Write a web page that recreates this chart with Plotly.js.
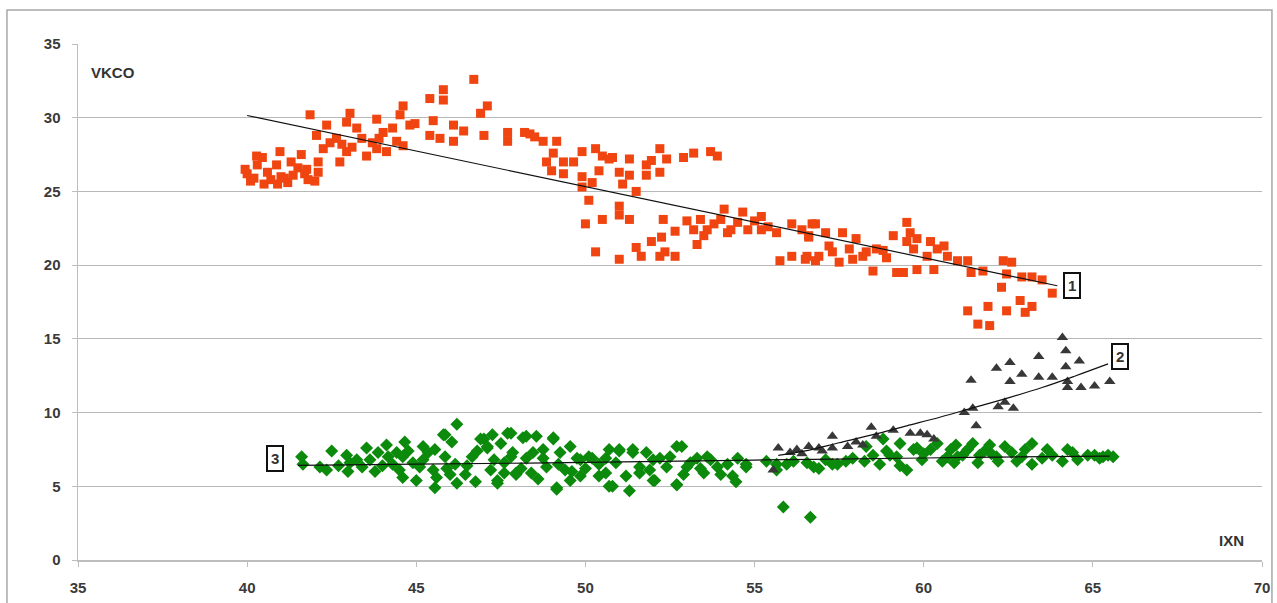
<!DOCTYPE html>
<html>
<head>
<meta charset="utf-8">
<script src="https://cdn.plot.ly/plotly-3.0.1.min.js"></script>
<style>html,body{margin:0;padding:0;background:#fff;}#chart{width:1277px;height:603px;}</style>
</head>
<body>
<div id="chart"></div>
<script>
// Series 1 (orange squares)
var orangeX = [40.0,40.1,40.3,40.45,40.5,40.7,40.9,41.0,41.2,41.3,41.5,41.6,41.7,42.0,42.1,41.8,39.94,40.28,40.97,40.87,41.36,41.76,42.1,41.86,42.05,42.25,42.35,42.64,42.74,42.94,43.04,42.94,43.24,43.39,43.53,43.83,43.83,44.02,44.12,44.42,44.61,44.52,44.61,44.81,44.96,45.4,45.8,45.8,45.5,45.4,45.7,46.1,46.1,46.4,46.7,46.9,47.1,47.0,47.7,47.7,48.2,42.45,43.7,43.9,48.36,48.75,49.15,49.05,48.85,49.0,49.35,49.35,49.65,49.9,49.9,49.9,50.2,50.3,50.5,50.4,50.7,50.8,50.1,50.0,50.3,50.5,51.0,51.1,51.3,51.3,51.5,51.0,51.0,51.3,51.0,51.5,51.65,51.8,51.8,51.95,52.2,52.2,52.4,51.95,52.25,52.2,52.35,52.65,52.3,52.65,52.9,53.2,53.7,53.9,53.3,53.0,53.2,53.4,53.6,53.8,54.0,54.1,54.3,54.5,54.65,54.8,55.0,55.2,55.2,55.65,56.1,56.4,56.7,56.6,55.75,56.1,56.55,56.8,56.8,57.1,56.6,56.5,56.9,57.3,57.6,57.5,57.8,58.0,57.9,58.3,58.5,58.6,58.9,59.1,59.2,59.5,59.6,59.5,59.8,59.7,59.4,59.8,60.2,60.4,60.6,60.1,60.3,60.7,61.0,61.3,61.4,61.75,62.35,62.6,62.45,62.9,63.2,63.5,63.8,62.3,61.3,61.6,61.9,61.95,62.45,62.85,63.0,63.2,53.5,54.2,55.4,57.2,58.2,58.8,48.5,43.1,44.3,42.8,40.6,41.1,40.2];
var orangeY = [26.2,25.7,26.8,27.3,25.5,25.8,25.5,26.0,25.6,27.0,26.6,27.5,26.2,25.7,26.3,25.8,26.5,27.4,27.7,26.8,26.1,26.5,27.0,30.2,28.8,27.9,29.5,28.6,27.0,27.7,30.3,29.7,29.3,28.6,27.4,29.9,27.9,29.0,27.7,28.4,30.8,30.2,28.1,29.5,29.6,31.3,31.9,31.2,29.8,28.8,28.6,29.5,28.4,29.1,32.6,30.3,30.8,28.8,29.0,28.4,29.0,28.3,28.3,28.6,28.9,28.4,28.4,27.6,27.0,26.4,26.2,27.0,27.0,27.7,26.0,25.3,25.6,27.9,27.4,26.4,27.2,27.3,24.4,22.8,20.9,23.1,26.3,25.5,27.2,26.1,25.0,24.0,23.4,23.1,20.4,21.2,20.6,26.8,26.1,27.1,27.9,26.3,27.2,21.6,21.9,20.6,20.9,20.6,23.1,22.3,27.3,27.6,27.7,27.4,21.4,23.0,22.4,23.1,22.4,22.8,23.1,23.8,22.4,22.9,23.6,22.4,23.0,22.4,23.3,22.2,22.8,22.4,22.8,21.9,20.3,20.6,20.6,20.3,22.8,22.2,22.0,20.4,20.6,20.9,22.2,20.2,21.1,21.8,20.4,20.9,19.6,21.1,20.5,22.0,19.5,22.9,22.2,21.6,21.8,21.1,19.5,19.7,21.6,21.1,21.3,20.6,19.7,20.6,20.3,20.3,19.5,19.6,20.3,20.2,19.4,19.2,19.2,19.0,18.1,18.5,16.9,16.0,17.2,15.9,16.9,17.6,16.8,17.2,22.0,22.2,22.6,21.3,20.6,21.0,28.7,28.0,29.3,28.2,26.3,25.9,25.9];

// Series 2 (dark triangles)
var triX = [64.1,64.2,63.4,62.55,62.15,61.4,62.9,62.55,63.4,63.8,64.2,64.6,64.25,64.25,64.65,65.05,65.5,61.2,61.45,62.2,62.4,62.65,61.55,58.45,55.7,55.55,56.05,56.25,56.6,56.9,57.3,57.3,57.75,58.6,59.1,59.6,59.9,58.0,58.2,60.1,60.3,56.4,57.0];
var triY = [15.1,14.2,13.8,13.4,13.0,12.2,12.6,12.1,12.4,12.4,13.1,13.5,12.1,11.7,11.7,11.8,12.1,10.0,10.3,10.4,10.7,10.3,9.1,9.0,7.6,6.1,7.3,7.5,7.7,7.6,8.4,7.6,7.7,8.4,8.8,8.6,8.6,8.0,7.8,8.5,8.2,7.2,7.4];

// Series 3 (green diamonds)
var greenX = [41.61,41.65,42.15,42.35,42.5,42.94,43.04,42.98,43.24,43.53,43.63,43.78,43.87,44.12,44.17,44.3,44.42,44.66,44.76,44.9,44.6,45.0,45.2,45.35,45.55,45.5,45.6,45.55,45.8,45.85,46.0,46.05,46.15,46.2,46.2,46.45,46.65,46.75,47.0,47.1,47.25,47.3,47.4,47.5,47.7,47.85,47.95,48.15,48.25,48.4,48.55,48.75,48.85,49.05,49.15,49.25,49.4,49.55,49.75,49.85,50.1,50.4,50.4,
  45.85,46.9,47.1,47.8,48.25,49.05,48.45,48.75,47.4,47.6,47.95,49.15,49.55,49.85,50.2,50.6,50.8,51.0,51.2,51.3,51.4,51.6,51.8,52.05,52.2,52.4,52.5,52.7,52.85,53.0,53.3,53.5,53.6,53.9,54.2,54.35,54.45,54.75,55.35,55.65,55.85,56.15,56.65,56.75,55.65,
  57.45,57.7,58.25,58.3,58.7,58.8,59.0,59.3,59.5,59.7,59.95,60.2,60.55,60.8,60.95,61.15,61.45,61.65,61.95,62.15,62.4,62.75,63.0,63.2,63.2,63.65,63.8,64.1,64.25,64.55,64.85,65.05,65.3,65.45,50.7,51.0,51.4,50.7,52.0,52.7,52.7,53.7,54.75,55.95,56.55,57.3,
  42.7,43.4,44.0,44.5,45.1,45.9,46.5,47.2,47.6,48.1,48.6,49.2,49.6,50.0,50.9,51.6,52.0,52.9,53.4,54.0,54.5,47.8,46.8,45.2,44.6,50.6,51.9,53.1,
  58.9,59.2,60.0,60.4,61.0,61.3,61.8,62.0,62.6,60.7,59.8,57.9,58.5,63.5,64.4,65.2,65.6,56.9,57.1,59.3,60.9,61.6,62.2,62.9];
var greenY = [7.0,6.5,6.3,6.1,7.4,7.1,6.6,6.0,6.8,7.6,6.8,6.0,7.3,7.8,7.0,6.5,7.3,8.0,7.4,6.6,5.6,5.4,7.7,7.3,7.5,6.1,5.6,4.9,8.5,7.0,5.8,8.0,6.5,9.2,5.2,5.8,7.0,5.3,8.2,7.6,8.5,6.8,5.4,7.9,8.6,7.3,5.9,8.3,6.9,5.9,8.4,7.5,6.3,8.2,4.8,7.3,6.1,7.7,6.9,5.7,7.0,6.5,5.7,
  8.5,8.2,7.7,8.6,8.4,8.3,7.3,6.9,5.2,5.9,5.8,4.9,5.4,6.8,6.9,5.9,5.0,7.4,5.7,4.7,7.3,6.3,7.3,5.4,6.9,6.3,7.0,5.1,7.7,6.3,6.9,5.9,7.0,6.3,6.5,5.7,5.3,6.3,6.7,6.5,3.6,6.7,2.9,6.3,6.1,
  6.5,6.7,6.7,7.7,6.5,8.2,7.1,7.9,6.1,7.5,6.8,7.5,6.7,7.5,7.8,7.1,7.9,7.1,7.8,7.0,7.7,6.7,7.5,7.9,6.5,7.5,7.1,6.7,7.5,6.8,7.1,7.1,7.0,7.1,7.5,7.5,7.5,5.0,5.4,7.7,5.1,6.8,6.5,6.5,6.6,6.5,
  6.4,6.3,6.4,6.1,6.3,6.2,6.4,6.1,6.6,6.2,5.5,6.5,6.0,6.2,6.6,5.9,6.8,5.8,6.2,5.8,6.9,7.0,7.4,6.8,7.0,6.9,6.1,6.6,
  7.4,7.0,7.2,7.9,7.0,7.5,7.4,7.2,7.3,7.0,7.6,6.9,7.1,6.9,7.3,6.9,7.0,6.2,6.8,6.4,6.6,6.6,6.7,7.0];

// Trend lines
var trend1X = [40.0, 63.95];
var trend1Y = [30.15, 18.6];
var trend2X = [55.7, 56.5, 57.5, 58.5, 59.5, 60.5, 61.5, 62.5, 63.5, 64.5, 65.45];
var trend2Y = [7.1, 7.4, 7.95, 8.5, 9.1, 9.7, 10.35, 11.0, 11.7, 12.5, 13.3];
var trend3X = [41.5, 45, 50, 55, 60, 62.3, 65.5];
var trend3Y = [6.42, 6.5, 6.62, 6.78, 6.92, 6.98, 7.05];

// Labels
var xTicks = [35, 40, 45, 50, 55, 60, 65, 70];
var yTicks = [0, 5, 10, 15, 20, 25, 30, 35];
var seriesLabels = ["1", "2", "3"];
var labelX = [64.38, 65.8, 40.82];
var labelY = [18.6, 13.8, 6.87];
var yName = "VKCO";
var xName = "IXN";

var FONT = 'Liberation Sans, Arial, sans-serif';

var traces = [
  {x: greenX, y: greenY, mode: 'markers', type: 'scatter',
   marker: {symbol: 'diamond', size: 10, color: '#0b8a0b', line: {width: 0}}},
  {x: orangeX, y: orangeY, mode: 'markers', type: 'scatter',
   marker: {symbol: 'square', size: 9, color: '#f04510', line: {width: 0}}},
  {x: triX, y: triY, mode: 'markers', type: 'scatter',
   marker: {symbol: 'triangle-up', size: 10, color: '#383838', line: {width: 0}}},
  {x: trend1X, y: trend1Y, mode: 'lines', type: 'scatter', line: {color: '#111', width: 1.2}},
  {x: trend2X, y: trend2Y, mode: 'lines', type: 'scatter', line: {color: '#111', width: 1.2, shape: 'spline'}},
  {x: trend3X, y: trend3Y, mode: 'lines', type: 'scatter', line: {color: '#111', width: 1.2, shape: 'spline'}}
];

var anns = seriesLabels.map(function(t, i) {
  return {x: labelX[i], y: labelY[i], xref: 'x', yref: 'y', text: '<b>' + t + '</b>', showarrow: false,
    font: {family: FONT, size: 15, color: '#333'},
    bgcolor: '#fff', bordercolor: '#111', borderwidth: 2, borderpad: 3};
});
anns.push({x: 35.33, y: 33.1, xref: 'x', yref: 'y', xanchor: 'left', text: '<b>' + yName + '</b>',
  showarrow: false, font: {family: FONT, size: 15, color: '#333'}});
anns.push({x: 69.1, y: 1.3, xref: 'x', yref: 'y', text: '<b>' + xName + '</b>',
  showarrow: false, font: {family: FONT, size: 15, color: '#333'}});

var layout = {
  width: 1277, height: 603,
  margin: {l: 78, r: 15, t: 44, b: 43},
  paper_bgcolor: '#fff', plot_bgcolor: '#fff',
  showlegend: false,
  xaxis: {range: [35, 70], tickvals: xTicks, ticktext: xTicks.map(function(v){return '<b>' + v + '</b>';}),
    showgrid: false, zeroline: false, showline: true, linecolor: '#bdbdbd', linewidth: 1.5,
    ticks: 'outside', ticklen: 5, tickcolor: '#bdbdbd', ticklabelstandoff: 8,
    tickfont: {family: FONT, size: 15, color: '#3a3a3a'}},
  yaxis: {range: [0, 35], tickvals: yTicks, ticktext: yTicks.map(function(v){return '<b>' + v + '</b>';}),
    showgrid: true, gridcolor: '#b8b8b8', gridwidth: 1, zeroline: false,
    showline: true, linecolor: '#bdbdbd', linewidth: 1.5,
    ticks: 'outside', ticklen: 5, tickcolor: '#bdbdbd', ticklabelstandoff: 8,
    tickfont: {family: FONT, size: 15, color: '#3a3a3a'}},
  annotations: anns,
  shapes: [
    {type: 'rect', xref: 'paper', yref: 'paper', x0: -0.06, x1: 1.0084, y0: -0.09, y1: 1.066,
     line: {color: '#a8a8a8', width: 1.5}, fillcolor: 'rgba(0,0,0,0)', layer: 'below'}
  ]
};

Plotly.newPlot('chart', traces, layout, {staticPlot: true, displayModeBar: false});
</script>
</body>
</html>
